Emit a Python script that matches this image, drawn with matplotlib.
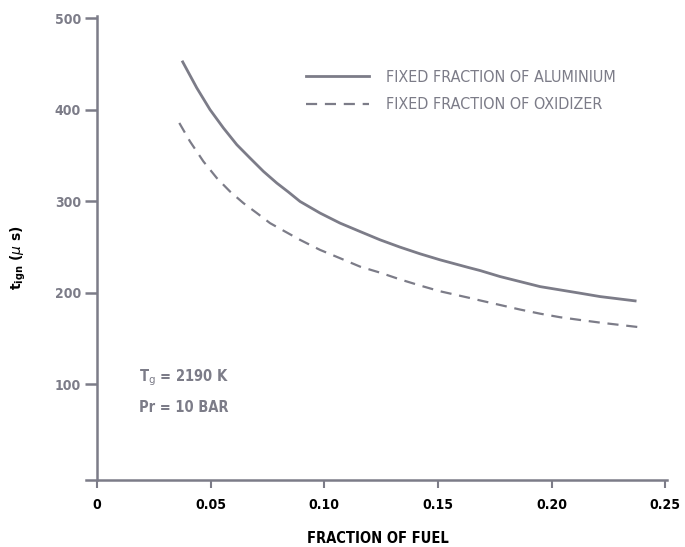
import matplotlib.pyplot as plt

# fraction of fuel vs ignition delay (µs)
x_alu = [0.0377, 0.0439, 0.0497, 0.0556, 0.0615, 0.0673, 0.0732, 0.0791, 0.0842,
         0.0893, 0.0981, 0.1069, 0.1157, 0.1245, 0.1333, 0.1421, 0.1509, 0.1634,
         0.1685, 0.1773, 0.1861, 0.1949, 0.2037, 0.2125, 0.2213, 0.2367]
t_alu = [452.5, 424.0, 400.3, 380.2, 361.9, 347.3, 332.7, 319.9, 310.1,
         299.8, 287.1, 276.1, 266.9, 257.8, 249.8, 242.5, 235.9, 227.5,
         224.2, 217.6, 212.1, 206.6, 203.0, 199.4, 195.7, 191.0]
x_oxi = [0.0362, 0.0409, 0.0468, 0.0527, 0.0585, 0.0644, 0.0703, 0.0761, 0.0827,
         0.0893, 0.0981, 0.1069, 0.1157, 0.1245, 0.1333, 0.1421, 0.1509, 0.1634,
         0.1685, 0.1773, 0.1861, 0.1949, 0.2037, 0.2125, 0.2213, 0.2389]
t_oxi = [385.7, 365.5, 343.6, 325.4, 310.7, 298.0, 287.1, 276.1, 266.9,
         257.8, 246.8, 237.7, 228.5, 221.9, 214.5, 207.8, 201.5, 194.5,
         191.5, 186.5, 181.5, 177.0, 173.1, 170.1, 167.2, 162.1]

x_ticks = [0, 0.05, 0.10, 0.15, 0.20, 0.25]
x_labels = ['0', '0.05', '0.10', '0.15', '0.20', '0.25']
y_ticks = [100, 200, 300, 400, 500]

gray = '#7c7c88'
fam = 'DejaVu Sans'

fig = plt.figure(figsize=(6.85, 5.47), dpi=100)
ax = fig.add_axes([0.125, 0.1225, 0.848, 0.8487])

ax.plot(x_alu, t_alu, color=gray, lw=2.0, label='FIXED FRACTION OF ALUMINIUM')
ax.plot(x_oxi, t_oxi, color=gray, lw=1.6, ls=(0, (5, 3.5)), label='FIXED FRACTION OF OXIDIZER')

ax.set_xlim(-0.005, 0.2505)
ax.set_ylim(-5, 503)
ax.spines['top'].set_visible(False)
ax.spines['right'].set_visible(False)
ax.spines['left'].set_position(('data', 0))
for s in ('left', 'bottom'):
    ax.spines[s].set_color(gray)
    ax.spines[s].set_linewidth(1.8)

ax.set_xticks(x_ticks)
ax.set_xticklabels(x_labels, fontsize=10, fontweight='bold', family=fam,
                   fontstretch='condensed')
ax.set_yticks(y_ticks)
ax.set_yticklabels([str(v) for v in y_ticks], fontsize=10, fontweight='bold',
                   color=gray, family=fam, fontstretch='condensed')
ax.tick_params(axis='y', direction='out', length=8.5, width=1.8, color=gray, pad=3)
ax.tick_params(axis='x', direction='out', length=6, width=1.5, color=gray, pad=7)

ax.set_xlabel('FRACTION OF FUEL', fontsize=10.5, fontweight='bold', family=fam,
              fontstretch='condensed')
ax.xaxis.set_label_coords(0.503, -0.127)
ax.xaxis.label.set_va('center')
ax.set_ylabel(r't$_{\mathbf{ign}}$ ($\mu$ s)', fontsize=10, fontweight='bold')
ax.yaxis.set_label_coords(-0.116, 0.478)
ax.yaxis.label.set_va('center')

leg = ax.legend(loc='upper left', bbox_to_anchor=(0.355, 0.915), frameon=False,
                handlelength=3.9, handletextpad=1.1, labelspacing=0.8,
                prop={'family': fam, 'size': 11.5, 'stretch': 'condensed'})
for t in leg.get_texts():
    t.set_color(gray)

ax.text(0.0185, 107, r'T$_\mathrm{g}$ = 2190 K', fontsize=10.5, color=gray, family=fam,
        fontweight='bold', va='center', fontstretch='condensed')
ax.text(0.0185, 74, 'Pr = 10 BAR', fontsize=10.5, color=gray, family=fam,
        fontweight='bold', va='center', fontstretch='condensed')

fig.savefig('out.png', dpi=100)
